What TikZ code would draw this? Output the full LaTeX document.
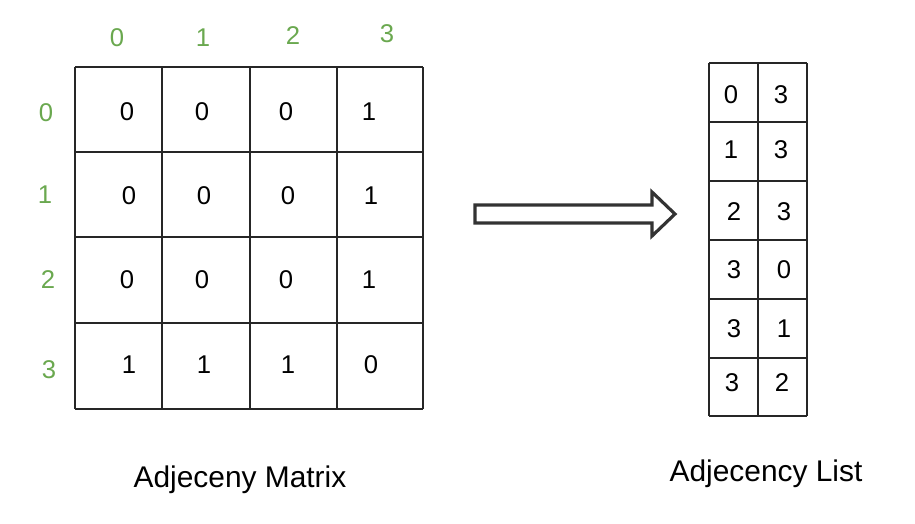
\documentclass[tikz,border=0pt]{standalone}
\usepackage{fontspec}
\setmainfont{Liberation Sans}
\usetikzlibrary{arrows,positioning}
\definecolor{idxgreen}{RGB}{106,168,79}
\tikzset{
  cell/.style={font=\fontsize{7.3}{8}\selectfont, inner sep=0pt},
  index/.style={cell, text=idxgreen},
  grid line/.style={draw=black!85, line width=0.3pt},
  caption/.style={font=\fontsize{8.5}{10}\selectfont, inner sep=0pt}
}
\begin{document}
\begin{tikzpicture}[x=0.01cm, y=-0.01cm]
  \useasboundingbox (0,0) rectangle (915,523);
  % Matrix grid
  \foreach \x in {75,162,250,337,423} \draw [grid line] (\x,67) -- (\x,409);
  \foreach \y in {67,152,237,323,409} \draw [grid line] (75,\y) -- (423,\y);
  % Column and row indices
  \foreach \v/\x/\y in {0/117/38,1/203/38,2/293/36,3/387/34}
    \node [index] (c\v) at (\x,\y) {\v};
  \foreach \v/\x/\y in {0/46/113,1/45/195,2/48/280,3/49/370}
    \node [index] (r\v) at (\x,\y) {\v};
  % Matrix entries
  \foreach \a/\b/\c/\d/\y/\s [count=\i] in {0/0/0/1/112/0,0/0/0/1/196/2,0/0/0/1/280/0,1/1/1/0/365/2} {
    \node [cell] (m\i a) at (127+\s,\y) {\a};
    \node [cell] (m\i b) at (202+\s,\y) {\b};
    \node [cell] (m\i c) at (286+\s,\y) {\c};
    \node [cell] (m\i d) at (369+\s,\y) {\d};
  }
  % Adjacency list
  \foreach \x in {709,758,807} \draw [grid line] (\x,63) -- (\x,416);
  \foreach \y in {63,122,181,240,299,358,416} \draw [grid line] (709,\y) -- (807,\y);
  \foreach \u/\w/\y/\s [count=\i] in {0/3/95/0,1/3/150/0,2/3/212/3,3/0/270/3,3/1/329/3,3/2/383/1} {
    \node [cell] (l\i u) at (731+\s,\y) {\u};
    \node [cell] (l\i w) at (781+\s,\y) {\w};
  }
  % Hollow arrow
  \draw [line width=0.9pt, draw=black!80, line join=miter]
    (475,205) -- (652,205) -- (652,192) -- (675,214) -- (652,236) -- (652,223) -- (475,223) -- cycle;
  % Captions
  \node [caption] (capm) at (240,480) {Adjeceny Matrix};
  \node [caption] (capl) at (766,474) {Adjecency List};
\end{tikzpicture}
\end{document}
